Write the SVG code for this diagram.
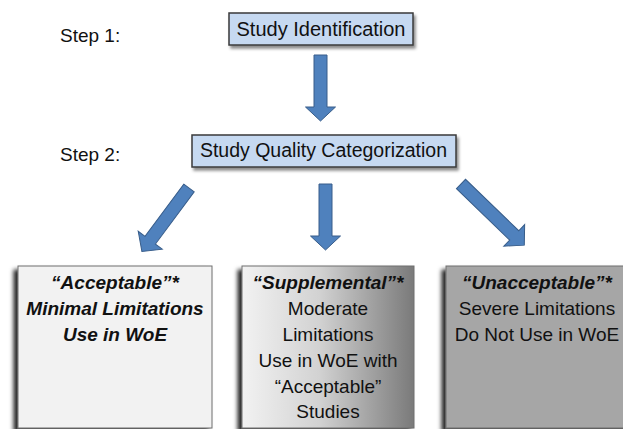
<svg xmlns="http://www.w3.org/2000/svg" width="623" height="429" viewBox="0 0 623 429">
<defs>
<filter id="sh1" x="-10%" y="-20%" width="130%" height="160%">
<feDropShadow dx="2" dy="3" stdDeviation="1.5" flood-color="#000" flood-opacity="0.45"/>
</filter>
<filter id="sh2" x="-10%" y="-10%" width="130%" height="130%">
<feDropShadow dx="-4" dy="4" stdDeviation="2.2" flood-color="#000" flood-opacity="0.85"/>
</filter>
<linearGradient id="gB" x1="0" y1="0" x2="1" y2="0">
<stop offset="0" stop-color="#f2f2f2"/>
<stop offset="0.45" stop-color="#d2d2d2"/>
<stop offset="1" stop-color="#7a7a7a"/>
</linearGradient>
<polygon id="arr66" points="-6.5,0 6.5,0 6.5,52 15,52 0,66 -15,52 -6.5,52"/>
<polygon id="arr79" points="-6.5,0 6.5,0 6.5,65 15,65 0,79 -15,65 -6.5,65"/>
<polygon id="arr88" points="-6.5,0 6.5,0 6.5,74 15,74 0,88 -15,74 -6.5,74"/>
</defs>
<style>
text{font-family:"Liberation Sans",Arial,sans-serif;fill:#111;}
.step{font-size:19px;}
.top{fill:#c6d9f1;stroke:#3a3a3a;stroke-width:1.5;}
.bot{stroke:#6f6f6f;stroke-width:1;}
.bt{font-size:19px;text-anchor:middle;}
.bi{font-weight:bold;font-style:italic;}
.arrow{fill:#4f81bd;stroke:#385d8a;stroke-width:1;}
</style>

<text class="step" x="60" y="41.5">Step 1:</text>
<text class="step" x="60" y="161">Step 2:</text>

<g id="n1">
<rect class="top" x="229" y="13" width="184" height="32" filter="url(#sh1)"/>
<text x="321" y="36" style="font-size:20px" text-anchor="middle">Study Identification</text>
</g>

<g id="n2">
<rect class="top" x="192" y="135" width="264" height="32" filter="url(#sh1)"/>
<text x="323.5" y="157" style="font-size:19.5px" text-anchor="middle">Study Quality Categorization</text>
</g>

<g id="connectors">
<use href="#arr66" class="arrow" transform="translate(320.5,55)"/>
<use href="#arr66" class="arrow" transform="translate(325.5,184)"/>
<use href="#arr79" class="arrow" transform="translate(189,188) rotate(36.6)"/>
<use href="#arr88" class="arrow" transform="translate(461,184) rotate(-46)"/>
</g>

<g id="nA">
<rect class="bot" x="18" y="266" width="194" height="162" fill="#f2f2f2" filter="url(#sh2)"/>
<text class="bt bi" x="115" y="289">“Acceptable”*</text>
<text class="bt bi" x="115" y="315">Minimal Limitations</text>
<text class="bt bi" x="115" y="341">Use in WoE</text>
</g>

<g id="nB">
<rect class="bot" x="242" y="266" width="172" height="162" fill="url(#gB)" filter="url(#sh2)"/>
<text class="bt bi" x="328" y="289">“Supplemental”*</text>
<text class="bt" x="328" y="315">Moderate</text>
<text class="bt" x="328" y="341">Limitations</text>
<text class="bt" x="328" y="367">Use in WoE with</text>
<text class="bt" x="328" y="393">“Acceptable”</text>
<text class="bt" x="328" y="418">Studies</text>
</g>

<g id="nC">
<rect class="bot" x="446" y="266" width="184" height="162" fill="#a6a6a6" filter="url(#sh2)"/>
<text class="bt bi" x="537" y="289">“Unacceptable”*</text>
<text class="bt" x="537" y="315">Severe Limitations</text>
<text class="bt" x="537" y="341">Do Not Use in WoE</text>
</g>
</svg>
